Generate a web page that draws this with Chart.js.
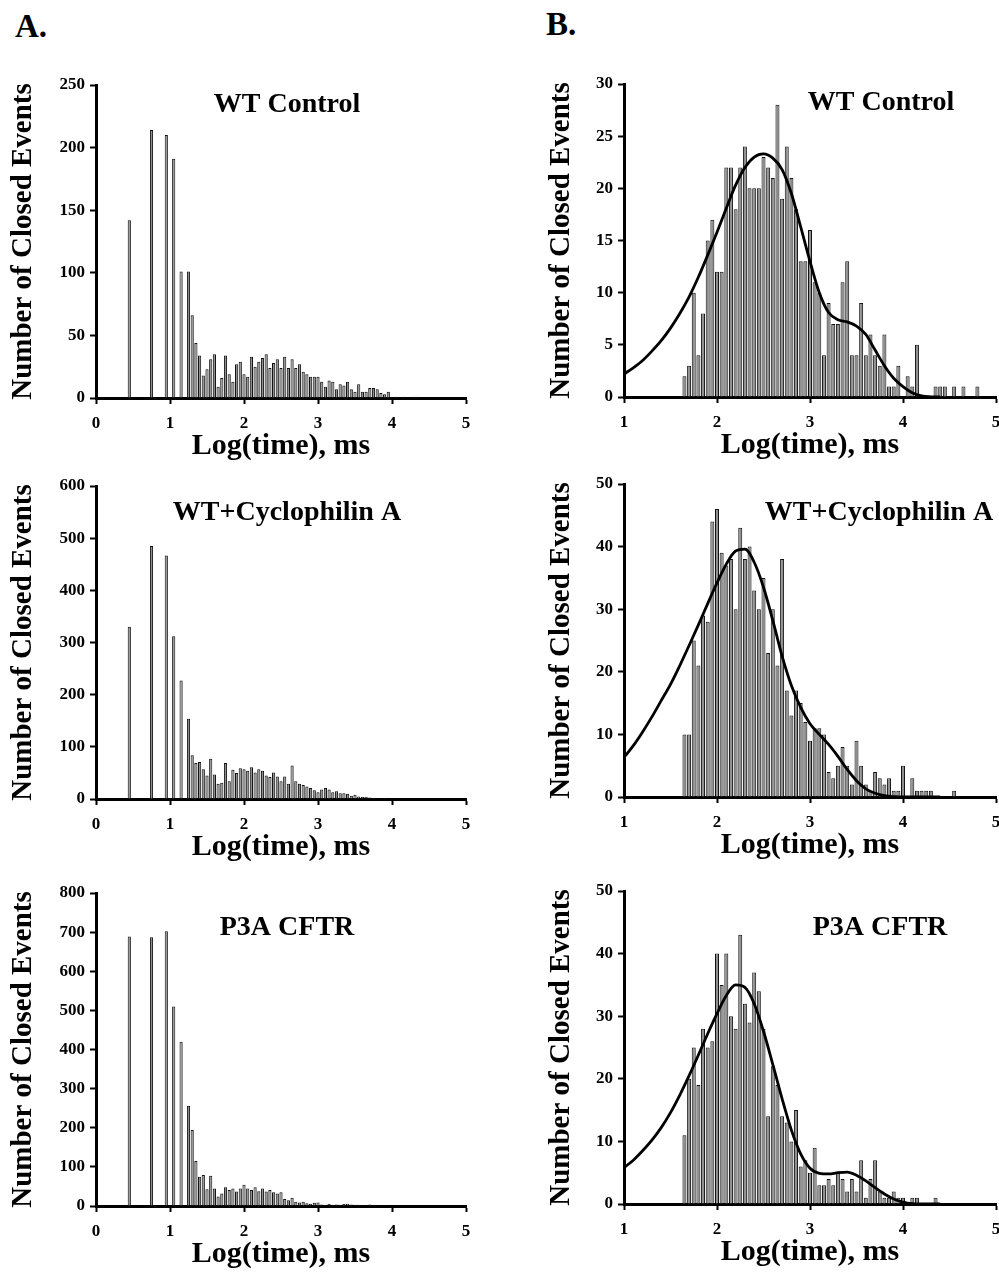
<!DOCTYPE html>
<html>
<head>
<meta charset="utf-8">
<script src="https://cdn.jsdelivr.net/npm/chart.js@4.4.1/dist/chart.umd.min.js"></script>
<style>
body { margin: 0; background: #fff; width: 999px; height: 1272px; position: relative; overflow: hidden; }
canvas { position: absolute; }
.tag { position: absolute; font: bold 33px "Liberation Serif", "Times New Roman", serif; color: #000; line-height: 1; }
</style>
</head>
<body>
<div class="tag" style="left:15px;top:10px">A.</div>
<div class="tag" style="left:546px;top:8px">B.</div>
<canvas id="a1" width="490" height="399" style="left:0px;top:65px"></canvas>
<canvas id="a2" width="490" height="399" style="left:0px;top:466px"></canvas>
<canvas id="a3" width="490" height="399" style="left:0px;top:873px"></canvas>
<canvas id="b1" width="471" height="399" style="left:528px;top:64px"></canvas>
<canvas id="b2" width="471" height="399" style="left:528px;top:464px"></canvas>
<canvas id="b3" width="471" height="399" style="left:528px;top:871px"></canvas>
<script>
// bin centres, log(time) in ms
var leftBins = [0.45, 0.75, 0.95, 1.05, 1.15, 1.25,
    1.30, 1.35, 1.40, 1.45, 1.50, 1.55, 1.60, 1.65, 1.70, 1.75,
    1.80, 1.85, 1.90, 1.95, 2.00, 2.05, 2.10, 2.15, 2.20, 2.25,
    2.30, 2.35, 2.40, 2.45, 2.50, 2.55, 2.60, 2.65, 2.70, 2.75,
    2.80, 2.85, 2.90, 2.95, 3.00, 3.05, 3.10, 3.15, 3.20, 3.25,
    3.30, 3.35, 3.40, 3.45, 3.50, 3.55, 3.60, 3.65, 3.70, 3.75,
    3.80, 3.85, 3.90, 3.95, 4.00, 4.05, 4.10, 4.15, 4.20, 4.25,
    4.30, 4.35, 4.40];
var rightBins = [1.65, 1.70, 1.75, 1.80, 1.85, 1.90, 1.95, 2.00, 2.05, 2.10,
    2.15, 2.20, 2.25, 2.30, 2.35, 2.40, 2.45, 2.50, 2.55, 2.60,
    2.65, 2.70, 2.75, 2.80, 2.85, 2.90, 2.95, 3.00, 3.05, 3.10,
    3.15, 3.20, 3.25, 3.30, 3.35, 3.40, 3.45, 3.50, 3.55, 3.60,
    3.65, 3.70, 3.75, 3.80, 3.85, 3.90, 3.95, 4.00, 4.05, 4.10,
    4.15, 4.20, 4.25, 4.30, 4.35, 4.40, 4.45, 4.50, 4.55, 4.60,
    4.65, 4.70, 4.75, 4.80];
var fitX = [1.0, 1.1, 1.2, 1.3, 1.4, 1.5, 1.6, 1.7, 1.8, 1.9,
    2.0, 2.1, 2.2, 2.3, 2.4, 2.5, 2.6, 2.7, 2.8, 2.9,
    3.0, 3.1, 3.2, 3.3, 3.4, 3.5, 3.6, 3.7, 3.8, 3.9,
    4.0, 4.1, 4.2, 4.3, 4.4];

// column A: all closed events
var wtControlAll = [142, 214, 210, 191, 101, 101,
    66, 44, 34, 18, 23, 31, 35, 9, 16, 34,
    19, 13, 27, 29, 19, 17, 33, 25, 29, 32,
    35, 24, 28, 31, 24, 33, 24, 31, 24, 27,
    21, 19, 17, 17, 17, 13, 9, 14, 13, 7,
    11, 10, 13, 7, 5, 11, 5, 5, 8, 8,
    7, 4, 3, 5, 0, 1, 0, 1, 0, 0,
    1, 1, 0];
var cypAll = [330, 485, 467, 312, 227, 154,
    84, 69, 71, 57, 45, 77, 47, 29, 31, 69,
    34, 56, 50, 59, 57, 54, 61, 51, 57, 54,
    45, 42, 51, 43, 34, 43, 29, 64, 34, 29,
    27, 24, 21, 17, 13, 18, 21, 18, 13, 15,
    11, 11, 10, 6, 8, 5, 4, 4, 3, 2,
    1, 1, 2, 1, 1, 0, 1, 0, 0, 0,
    0, 0, 0];
var p3aAll = [689, 687, 702, 510, 420, 256,
    194, 115, 75, 79, 43, 77, 45, 24, 32, 48,
    41, 45, 37, 45, 54, 45, 41, 48, 38, 45,
    37, 41, 35, 32, 35, 18, 15, 21, 11, 9,
    11, 7, 5, 8, 9, 4, 3, 5, 3, 4,
    3, 5, 6, 4, 3, 3, 2, 2, 4, 1,
    1, 1, 2, 1, 1, 0, 0, 0, 0, 0,
    0, 0, 0];

// column B: long closed events + fitted curves
var wtControlLong = [2, 3, 10, 4, 8, 15, 17, 12, 12, 22,
    22, 18, 22, 24, 20, 20, 20, 23, 22, 21,
    28, 19, 24, 21, 18, 13, 13, 16, 11, 10,
    4, 9, 7, 7, 11, 13, 4, 4, 9, 4,
    6, 4, 3, 6, 1, 1, 3, 0, 2, 1,
    5, 0, 0, 0, 1, 1, 1, 0, 1, 0,
    1, 0, 0, 1];
var cypLong = [10, 10, 25, 21, 29, 28, 44, 46, 39, 37,
    38, 30, 43, 38, 40, 33, 30, 35, 23, 30,
    21, 38, 17, 13, 17, 15, 12, 9, 11, 11,
    10, 4, 3, 5, 8, 5, 2, 9, 5, 2,
    1, 4, 3, 2, 3, 1, 1, 5, 0, 3,
    1, 1, 1, 1, 0, 0, 0, 0, 1, 0,
    0, 0, 0, 0];
var p3aLong = [11, 20, 25, 19, 28, 25, 26, 40, 35, 40,
    30, 28, 43, 32, 29, 37, 34, 28, 14, 22,
    19, 14, 13, 10, 15, 6, 7, 5, 9, 3,
    3, 4, 3, 5, 4, 2, 4, 2, 7, 1,
    4, 7, 2, 1, 1, 2, 1, 1, 0, 1,
    1, 0, 0, 0, 1, 0, 0, 0, 0, 0,
    0, 0, 0, 0];
var wtControlFit = [2.2, 2.8, 3.5, 4.4, 5.4, 6.6, 8.0, 9.6, 11.5, 13.6,
    15.8, 18.1, 20.3, 22.0, 23.0, 23.3, 22.9, 21.8, 19.5, 16.3,
    13.0, 10.0, 8.1, 7.4, 7.2, 6.8, 6.0, 4.5, 3.0, 1.8,
    1.0, 0.4, 0.1, 0.02, 0];
var cypFit = [6.3, 8.2, 10.4, 12.8, 15.4, 18.0, 21.0, 24.2, 27.5, 30.9,
    34.2, 37.2, 39.3, 39.6, 37.5, 33.5, 28.2, 22.5, 17.8, 14.3,
    11.7, 10.0, 8.4, 6.5, 4.4, 2.6, 1.3, 0.6, 0.2, 0.05,
    0, 0, 0, 0, 0];
var p3aFit = [5.8, 7.0, 8.5, 10.2, 12.2, 14.6, 17.4, 20.5, 23.8, 27.2,
    30.4, 33.3, 35.0, 34.6, 32.0, 27.6, 22.3, 16.8, 11.8, 8.0,
    5.7, 4.9, 4.8, 5.0, 5.1, 4.6, 3.7, 2.6, 1.6, 0.8,
    0.3, 0.05, 0, 0, 0];

var serif = '"Liberation Serif", "Times New Roman", serif';

var titlePlugin = {
    id: 'panelTitle',
    afterDraw: function (chart, args, opts) {
        var ctx = chart.ctx, area = chart.chartArea;
        ctx.save();
        ctx.font = 'bold 28px ' + serif;
        ctx.fillStyle = '#000';
        ctx.textAlign = 'center';
        ctx.textBaseline = 'middle';
        ctx.fillText(opts.text, area.left + opts.dx, area.top + opts.dy);
        ctx.restore();
    }
};

function make_panel(id, p) {
    var ctx = document.getElementById(id);
    var datasets = [{
        type: 'bar',
        data: p.bins.map(function (x, i) { return { x: x, y: p.counts[i] }; }),
        backgroundColor: '#8e8e8e',
        borderColor: '#111',
        borderWidth: 1,
        barPercentage: 0.95,
        categoryPercentage: 0.9,
        order: 2
    }];
    if (p.fit) {
        datasets.push({
            type: 'line',
            data: fitX.map(function (x, i) { return { x: x, y: p.fit[i] }; }),
            borderColor: '#000',
            borderWidth: 2.8,
            pointRadius: 0,
            cubicInterpolationMode: 'monotone',
            fill: false,
            order: 1
        });
    }
    var axisGrid = { offset: false, drawOnChartArea: false, drawTicks: true, tickLength: 6, tickWidth: 2, tickColor: '#000' };
    var tickFont = { family: serif, size: 17, weight: 'bold' };
    new Chart(ctx, {
        type: 'bar',
        data: { datasets: datasets },
        plugins: [titlePlugin],
        options: {
            responsive: false,
            animation: false,
            layout: { padding: { top: 20, right: p.padRight, left: 0, bottom: 0 } },
            plugins: {
                legend: { display: false },
                tooltip: { enabled: false },
                panelTitle: { text: p.title, dx: p.titleDx, dy: p.titleDy }
            },
            scales: {
                x: {
                    type: 'linear',
                    min: p.xMin,
                    max: 5,
                    offset: false,
                    grid: axisGrid,
                    border: { color: '#000', width: 3 },
                    ticks: { stepSize: 1, padding: 9, color: '#000', font: tickFont, maxRotation: 0 },
                    title: { display: true, text: 'Log(time), ms', color: '#000', font: { family: serif, size: 30, weight: 'bold' }, padding: 0 },
                    afterFit: function (s) { s.height = 66; s.paddingLeft = 0; s.paddingRight = 0; }
                },
                y: {
                    min: 0,
                    max: p.yMax,
                    grid: axisGrid,
                    border: { color: '#000', width: 3 },
                    ticks: { stepSize: p.yStep, padding: 5, color: '#000', font: tickFont },
                    title: { display: true, text: 'Number of Closed Events', color: '#000', font: { family: serif, size: 29, weight: 'bold' }, padding: { top: p.yTitlePad, bottom: 0 } },
                    afterFit: function (s) { s.width = 96; }
                }
            }
        }
    });
}

make_panel('a1', { bins: leftBins, counts: wtControlAll, xMin: 0, yMax: 250, yStep: 50, title: 'WT Control', titleDx: 191, titleDy: 20, yTitlePad: 6, padRight: 24 });
make_panel('a2', { bins: leftBins, counts: cypAll, xMin: 0, yMax: 600, yStep: 100, title: 'WT+Cyclophilin A', titleDx: 191, titleDy: 27, yTitlePad: 6, padRight: 24 });
make_panel('a3', { bins: leftBins, counts: p3aAll, xMin: 0, yMax: 800, yStep: 100, title: 'P3A CFTR', titleDx: 191, titleDy: 35, yTitlePad: 6, padRight: 24 });
make_panel('b1', { bins: rightBins, counts: wtControlLong, fit: wtControlFit, xMin: 1, yMax: 30, yStep: 5, title: 'WT Control', titleDx: 257, titleDy: 19, yTitlePad: 16, padRight: 3 });
make_panel('b2', { bins: rightBins, counts: cypLong, fit: cypFit, xMin: 1, yMax: 50, yStep: 10, title: 'WT+Cyclophilin A', titleDx: 255, titleDy: 29, yTitlePad: 16, padRight: 3 });
make_panel('b3', { bins: rightBins, counts: p3aLong, fit: p3aFit, xMin: 1, yMax: 50, yStep: 10, title: 'P3A CFTR', titleDx: 256, titleDy: 37, yTitlePad: 16, padRight: 3 });
</script>
</body>
</html>
